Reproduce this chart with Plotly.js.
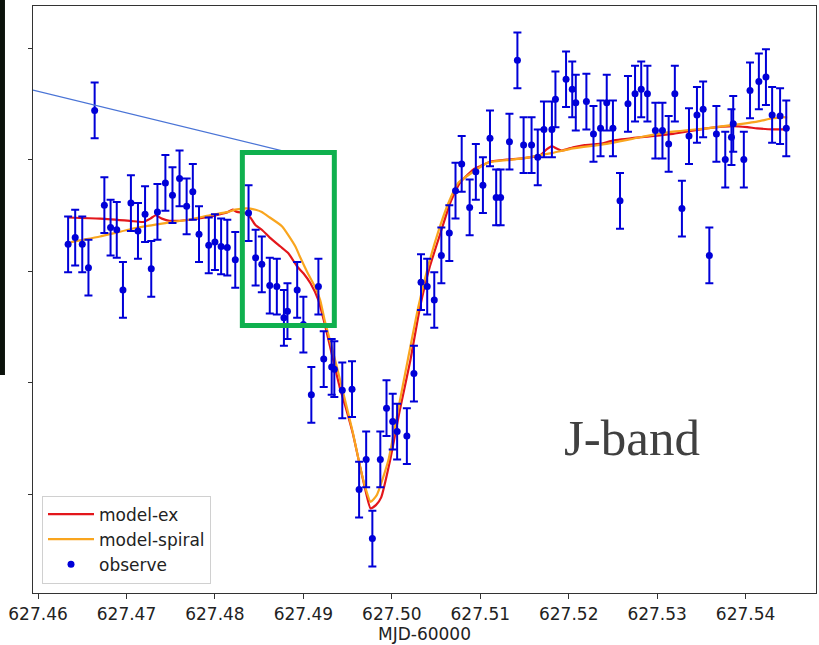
<!DOCTYPE html>
<html>
<head>
<meta charset="utf-8">
<script src="https://cdn.plot.ly/plotly-3.0.1.min.js"></script>
<style>html,body{margin:0;padding:0;background:#fff;}#chart{width:819px;height:645px;}</style>
</head>
<body>
<div id="chart"></div>
<script>
// Observations (MJD-60000, relative flux)
const obsTime = [627.4634,627.4642,627.4650,627.4657,627.4664,627.4675,627.4682,627.4689,627.4696,627.4705,
627.4713,627.4721,627.4728,627.4735,627.4744,627.4752,627.4760,627.4768,627.4775,627.4782,
627.4793,627.4800,627.4807,627.4814,627.4823,627.4838,627.4846,627.4853,627.4862,627.4870,
627.4878,627.4882,627.4893,627.4900,627.4909,627.4917,627.4923,627.4932,627.4935,627.4944,
627.4955,627.4963,627.4971,627.4978,627.4987,627.4994,627.5001,627.5006,627.5017,627.5025,
627.5033,627.5040,627.5048,627.5056,627.5065,627.5072,627.5079,627.5088,627.5095,627.5103,
627.5111,627.5118,627.5123,627.5133,627.5142,627.5149,627.5158,627.5165,627.5172,627.5181,
627.5185,627.5197,627.5204,627.5208,627.5220,627.5228,627.5236,627.5243,627.5250,627.5258,
627.5267,627.5275,627.5282,627.5289,627.5298,627.5306,627.5313,627.5320,627.5328,627.5336,
627.5345,627.5352,627.5359,627.5367,627.5377,627.5384,627.5386,627.5398,627.5405,627.5415,
627.5423,627.5430,627.5439,627.5446];
const obsFlux = [0.824,0.830,0.824,0.803,0.944,0.859,0.839,0.837,0.783,0.861,
0.836,0.851,0.802,0.853,0.879,0.868,0.883,0.858,0.871,0.833,
0.823,0.826,0.822,0.821,0.810,0.852,0.812,0.806,0.787,0.786,
0.758,0.764,0.783,0.752,0.689,0.786,0.721,0.714,0.712,0.693,
0.694,0.604,0.631,0.560,0.631,0.677,0.665,0.656,0.652,0.708,
0.790,0.786,0.774,0.814,0.834,0.872,0.896,0.857,0.889,0.877,
0.919,0.866,0.866,0.916,0.989,0.913,0.913,0.902,0.927,0.927,
0.954,0.972,0.963,0.951,0.952,0.923,0.928,0.951,0.928,0.863,
0.950,0.959,0.963,0.959,0.926,0.926,0.914,0.959,0.856,0.921,
0.940,0.945,0.814,0.923,0.900,0.920,0.932,0.900,0.962,0.970,
0.974,0.940,0.939,0.928];
const obsErr = 0.025;

// model-ex
const exTime = [627.4634,627.4670,627.4704,627.4719,627.4727,627.4733,627.4740,627.4749,627.4772,627.4789,
627.4806,627.4815,627.4820,627.4825,627.4834,627.4840,627.4846,627.4853,627.4862,627.4874,
627.4883,627.4893,627.4900,627.4908,627.4917,627.4924,627.4932,627.4941,627.4947,627.4956,
627.4964,627.4970,627.4976,627.4982,627.4988,627.4998,627.5009,627.5021,627.5032,627.5043,
627.5055,627.5066,627.5077,627.5092,627.5100,627.5111,627.5130,627.5148,627.5168,627.5175,
627.5181,627.5186,627.5192,627.5205,627.5218,627.5235,627.5250,627.5281,627.5318,627.5356,
627.5386,627.5402,627.5413,627.5431,627.5447];
const exFlux = [0.848,0.847,0.845,0.844,0.847,0.850,0.847,0.845,0.846,0.848,
0.851,0.853,0.855,0.853,0.852,0.848,0.841,0.837,0.830,0.822,
0.816,0.804,0.798,0.789,0.774,0.753,0.726,0.696,0.680,0.654,
0.625,0.604,0.587,0.590,0.597,0.630,0.675,0.720,0.768,0.804,
0.834,0.861,0.879,0.891,0.894,0.898,0.900,0.901,0.904,0.909,
0.912,0.910,0.908,0.911,0.913,0.914,0.917,0.920,0.923,0.928,
0.930,0.929,0.928,0.927,0.927];

// model-spiral
const spTime = [627.4634,627.4638,627.4651,627.4670,627.4713,627.4744,627.4770,627.4794,627.4815,627.4823,
627.4831,627.4840,627.4846,627.4853,627.4862,627.4876,627.4891,627.4896,627.4905,627.4913,
627.4919,627.4924,627.4934,627.4945,627.4956,627.4964,627.4970,627.4976,627.4983,627.4996,
627.5007,627.5018,627.5030,627.5041,627.5052,627.5064,627.5075,627.5092,627.5108,627.5114,
627.5148,627.5168,627.5182,627.5205,627.5243,627.5281,627.5318,627.5356,627.5386,627.5413,
627.5431,627.5447];
const spFlux = [0.824,0.826,0.828,0.831,0.839,0.843,0.846,0.850,0.853,0.855,
0.856,0.856,0.855,0.853,0.848,0.840,0.822,0.813,0.798,0.786,
0.774,0.756,0.726,0.691,0.655,0.625,0.606,0.593,0.599,0.630,
0.675,0.720,0.768,0.804,0.834,0.861,0.879,0.889,0.897,0.898,
0.901,0.904,0.906,0.910,0.914,0.920,0.925,0.928,0.931,0.934,
0.937,0.938];

const xTickVals = [627.46,627.47,627.48,627.49,627.50,627.51,627.52,627.53,627.54];
const xTickText = ['627.46','627.47','627.48','627.49','627.50','627.51','627.52','627.53','627.54'];
const yTickVals = [0.6,0.7,0.8,0.9,1.0];

const traces = [
  {x: exTime, y: exFlux, type: 'scatter', mode: 'lines', name: 'model-ex',
   line: {color: '#e3161b', width: 2.2, shape: 'spline', smoothing: 0.5}, legendrank: 1},
  {x: spTime, y: spFlux, type: 'scatter', mode: 'lines', name: 'model-spiral',
   line: {color: '#f9a51e', width: 2.2, shape: 'spline', smoothing: 0.5}, legendrank: 2},
  {x: obsTime, y: obsFlux, type: 'scatter', mode: 'markers', name: 'observe',
   marker: {color: '#0000d8', size: 7},
   error_y: {type: 'constant', value: obsErr, color: '#0000d8', thickness: 2, width: 4},
   legendrank: 3}
];

const layout = {
  width: 819, height: 645,
  margin: {l: 33, r: 3, t: 6, b: 52},
  paper_bgcolor: '#ffffff', plot_bgcolor: '#ffffff',
  font: {family: 'DejaVu Sans, sans-serif', size: 17, color: '#222'},
  showlegend: true,
  legend: {x: 0.0115, y: 0.166, xanchor: 'left', yanchor: 'top',
    bgcolor: 'rgba(255,255,255,0.85)', bordercolor: '#d0d0d0', borderwidth: 1,
    font: {size: 17, color: '#222'}, itemwidth: 46, tracegroupgap: 0},
  xaxis: {range: [627.45943, 627.54796], tickvals: xTickVals, ticktext: xTickText,
    ticks: 'outside', ticklen: 5, tickcolor: '#333', showgrid: false, zeroline: false,
    showline: true, linecolor: '#333', linewidth: 1.3, mirror: true,
    tickfont: {size: 17, color: '#222'},
    title: {text: 'MJD-60000', font: {size: 17, color: '#222'}, standoff: 4}},
  yaxis: {range: [0.5112, 1.0377], tickvals: yTickVals, showticklabels: false,
    ticks: 'outside', ticklen: 4, tickcolor: '#333', showgrid: false, zeroline: false,
    showline: true, linecolor: '#333', linewidth: 1.3, mirror: true},
  shapes: [
    {type: 'rect', xref: 'paper', yref: 'paper', x0: -0.0422, x1: -0.0358, y0: 0.3714, y1: 1.02,
     fillcolor: '#0b120b', line: {width: 0}},
    {type: 'line', xref: 'x', yref: 'y', x0: 627.45943, y0: 0.9623, x1: 627.4882, y1: 0.9067,
     line: {color: '#4a74d6', width: 1.2}},
    {type: 'rect', xref: 'x', yref: 'y', x0: 627.4831, x1: 627.4935, y0: 0.7511, y1: 0.9063,
     line: {color: '#0fb04e', width: 5}, fillcolor: 'rgba(0,0,0,0)'}
  ],
  annotations: [
    {text: 'J-band', xref: 'x', yref: 'y', x: 627.5271, y: 0.6505, xanchor: 'center', yanchor: 'middle',
     showarrow: false, font: {family: 'Liberation Serif, Times New Roman, serif', size: 51, color: '#404040'}}
  ]
};

Plotly.newPlot('chart', traces, layout, {displayModeBar: false, staticPlot: true});
</script>
</body>
</html>
